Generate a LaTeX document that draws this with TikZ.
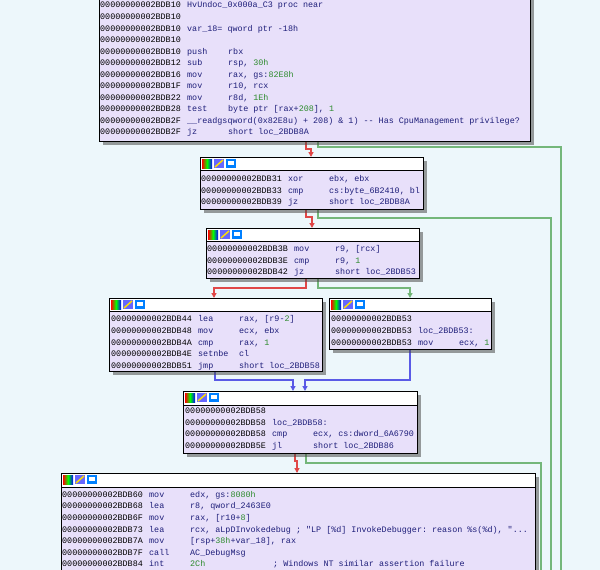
\documentclass[tikz,border=0pt]{standalone}
\usepackage{fontspec}
\setmonofont{Liberation Mono}
\usetikzlibrary{shadows,arrows.meta}
\definecolor{bgc}{HTML}{EDF7FB}
\definecolor{lav}{HTML}{E8E0FA}
\definecolor{nav}{HTML}{1E1E7A}
\definecolor{grn}{HTML}{2E8B2E}
\definecolor{eg}{HTML}{74B77A}
\definecolor{er}{HTML}{E04848}
\definecolor{eb}{HTML}{5A5AE6}
\newcommand{\g}[1]{\textcolor{grn}{#1}}
\tikzset{
  x=1pt,y=-1pt,
  blk/.style={draw=black,line width=1pt,fill=lav,anchor=north west,inner sep=0pt,
    drop shadow={shadow xshift=3pt,shadow yshift=-3pt,opacity=.55,fill=black!70}},
  txt/.style={anchor=base west,inner sep=0pt,font=\ttfamily\fontsize{8.4}{10}\selectfont,text=nav},
  hdr/.style={fill=white,draw=black,line width=1pt},
  eG/.style={draw=eg,line width=1.6pt},
  eR/.style={draw=er,line width=1.6pt,-{Triangle[length=5pt,width=5pt,fill=red!80!black]}},
  eGa/.style={draw=eg,line width=1.6pt,-{Triangle[length=5pt,width=5pt,fill=green!45!black]}},
  eB/.style={draw=eb,line width=1.6pt,-{Triangle[length=5pt,width=5pt,fill=blue!85!black]}}
}
\newcommand{\asm}[5]{%
  \node[txt] at (#1,#2) {\textcolor{black}{#3}};
  \node[txt] at (#1+87,#2) {#4};
  \node[txt] at (#1+128,#2) {#5};}
\newcommand{\icons}[2]{%
  \shade[left color=red,right color=blue,middle color=green] (#1+2,#2+2) rectangle ++(10,9);
  \fill[blue!60] (#1+14,#2+2) rectangle ++(10,9);
  \draw[yellow!80!orange,line width=1.5pt] (#1+15,#2+10) -- (#1+23,#2+3);
  \fill[blue!50!cyan] (#1+26,#2+2) rectangle ++(10,9);
  \fill[white] (#1+28,#2+4) rectangle ++(6,4);}
\begin{document}
\begin{tikzpicture}
\useasboundingbox (0,0) rectangle (600,570);
\fill[bgc] (0,0) rectangle (600,570);
% edges
\draw[eR] (306,141) -- (306,149) -- (311,149) -- (311,157);
\draw[eG] (318,141) -- (318,147) -- (561,147) -- (561,572);
\draw[eR] (306,209) -- (306,217) -- (312,217) -- (312,228);
\draw[eG] (318,209) -- (318,218) -- (551,218) -- (551,572);
\draw[eR] (306,278) -- (306,288) -- (214,288) -- (214,298);
\draw[eGa] (318,278) -- (318,288) -- (410,288) -- (410,298);
\draw[eB] (215,371) -- (215,380) -- (293,380) -- (293,391);
\draw[eB] (410,349) -- (410,380) -- (305,380) -- (305,391);
\draw[eR] (295,453) -- (295,461) -- (297,461) -- (297,473);
\draw[eG] (306,453) -- (306,463) -- (541,463) -- (541,572);
% blocks
\node[blk,minimum width=431,minimum height=146] (b1) at (99,-5) {};
\node[blk,minimum width=223,minimum height=52] (b2) at (200,157) {};
\draw[hdr] (200,157) rectangle (423,170); \icons{200}{157}
\node[blk,minimum width=213,minimum height=50] (b3) at (206,228) {};
\draw[hdr] (206,228) rectangle (419,241); \icons{206}{228}
\node[blk,minimum width=213,minimum height=73] (b4) at (109,298) {};
\draw[hdr] (109,298) rectangle (322,311); \icons{109}{298}
\node[blk,minimum width=162,minimum height=51] (b5) at (329,298) {};
\draw[hdr] (329,298) rectangle (491,311); \icons{329}{298}
\node[blk,minimum width=234,minimum height=62] (b6) at (183,391) {};
\draw[hdr] (183,391) rectangle (417,405); \icons{183}{391}
\node[blk,minimum width=474,minimum height=110] (b7) at (61,473) {};
\draw[hdr] (61,473) rectangle (535,487); \icons{61}{473}
% B1
\asm{100}{8}{00000000002BDB10}{HvUndoc\_0x000a\_C3 proc near}{}
\asm{100}{19.5}{00000000002BDB10}{}{}
\asm{100}{31}{00000000002BDB10}{var\_18= qword ptr -18h}{}
\asm{100}{42.5}{00000000002BDB10}{}{}
\asm{100}{54}{00000000002BDB10}{push}{rbx}
\asm{100}{65.5}{00000000002BDB12}{sub}{rsp, \g{30h}}
\asm{100}{77}{00000000002BDB16}{mov}{rax, gs:\g{82E8h}}
\asm{100}{88.5}{00000000002BDB1F}{mov}{r10, rcx}
\asm{100}{100}{00000000002BDB22}{mov}{r8d, \g{1Eh}}
\asm{100}{111.5}{00000000002BDB28}{test}{byte ptr [rax+\g{208}], \g{1}}
\asm{100}{123}{00000000002BDB2F}{\_\_readgsqword(0x82E8u) + 208) \& 1) -{}- Has CpuManagement privilege?}{}
\asm{100}{134.5}{00000000002BDB2F}{jz}{short loc\_2BDB8A}
% B2
\asm{201}{181}{00000000002BDB31}{xor}{ebx, ebx}
\asm{201}{193}{00000000002BDB33}{cmp}{cs:byte\_6B2410, bl}
\asm{201}{204.5}{00000000002BDB39}{jz}{short loc\_2BDB8A}
% B3
\asm{207}{251}{00000000002BDB3B}{mov}{r9, [rcx]}
\asm{207}{263}{00000000002BDB3E}{cmp}{r9, \g{1}}
\asm{207}{274.5}{00000000002BDB42}{jz}{short loc\_2BDB53}
% B4
\asm{111}{321}{00000000002BDB44}{lea}{rax, [r9-\g{2}]}
\asm{111}{333}{00000000002BDB48}{mov}{ecx, ebx}
\asm{111}{345}{00000000002BDB4A}{cmp}{rax, \g{1}}
\asm{111}{356}{00000000002BDB4E}{setnbe}{cl}
\asm{111}{368}{00000000002BDB51}{jmp}{short loc\_2BDB58}
% B5
\asm{331}{321}{00000000002BDB53}{}{}
\asm{331}{333}{00000000002BDB53}{loc\_2BDB53:}{}
\asm{331}{345}{00000000002BDB53}{mov}{ecx, \g{1}}
% B6
\asm{185}{413}{00000000002BDB58}{}{}
\asm{185}{425}{00000000002BDB58}{loc\_2BDB58:}{}
\asm{185}{436}{00000000002BDB58}{cmp}{ecx, cs:dword\_6A6790}
\asm{185}{448.5}{00000000002BDB5E}{jl}{short loc\_2BDB86}
% B7
\asm{62}{497}{00000000002BDB60}{mov}{edx, gs:\g{8080h}}
\asm{62}{508.5}{00000000002BDB68}{lea}{r8, qword\_2463E0}
\asm{62}{520}{00000000002BDB6F}{mov}{rax, [r10+\g{8}]}
\asm{62}{532}{00000000002BDB73}{lea}{rcx, aLpDInvokedebug ; "LP [\%d] InvokeDebugger: reason \%s(\%d), "...}
\asm{62}{543}{00000000002BDB7A}{mov}{[rsp+\g{38h}+var\_18], rax}
\asm{62}{555}{00000000002BDB7F}{call}{AC\_DebugMsg}
\asm{62}{566.5}{00000000002BDB84}{int}{\g{2Ch}}
\node[txt] at (273,566.5) {; Windows NT similar assertion failure};
\end{tikzpicture}
\end{document}
